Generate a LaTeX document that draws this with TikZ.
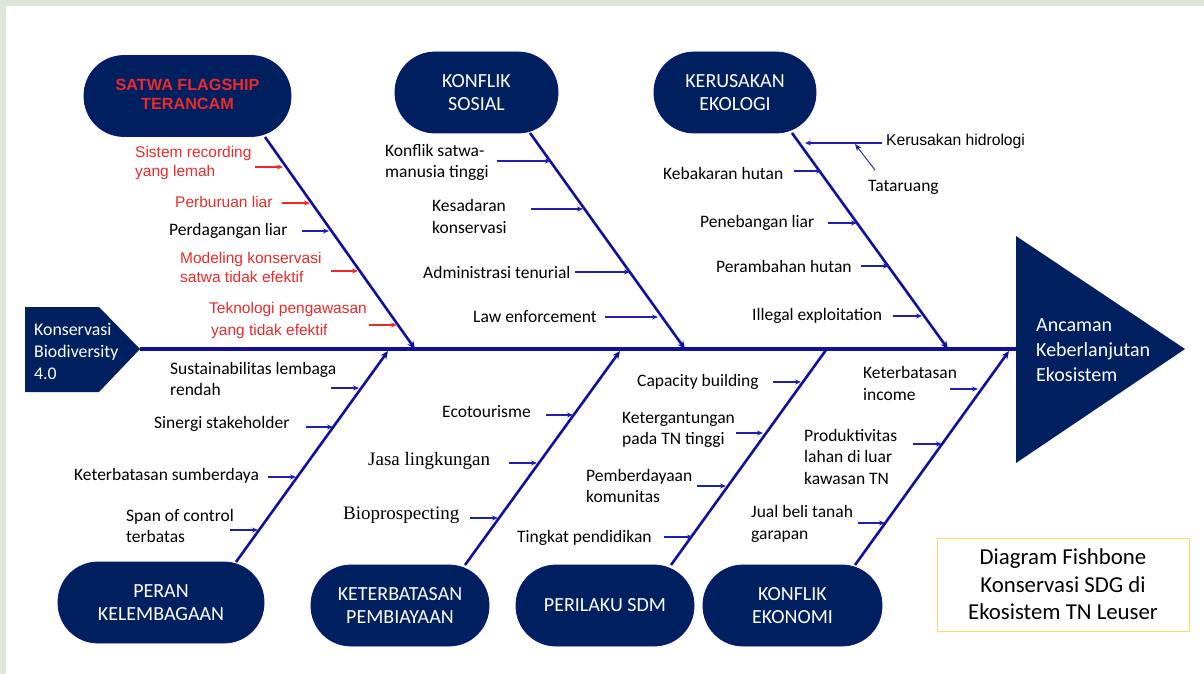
\documentclass[tikz,border=0pt]{standalone}
\usepackage{fontspec}
\setmainfont{Carlito}
\newfontfamily\arialf{Liberation Sans}
\newfontfamily\serf{Liberation Serif}
\usetikzlibrary{arrows.meta}
\definecolor{navy}{HTML}{002060}
\definecolor{bonec}{HTML}{10109C}
\definecolor{arrc}{HTML}{1E1EB0}
\definecolor{redc}{HTML}{EC2A2A}
\definecolor{framec}{HTML}{DEE6D8}
\definecolor{goldc}{HTML}{FFD966}
\newcommand{\subarr}[4][arrc]{\draw[subarrow,draw=#1] (#2,#4) -- (#3,#4);}
\begin{document}
\begin{tikzpicture}[x=1pt,y=-1pt,
  cat/.style={rectangle, rounded corners=40pt, fill=navy, draw=bonec!60!navy, line width=0.8pt,
    text=white, align=center, minimum height=81pt, inner sep=0pt,
    font=\fontsize{20}{23.5}\selectfont},
  bone/.style={draw=bonec, line width=2.6pt},
  bonetip/.style={bone, -{Stealth[length=8pt,width=7pt]}},
  spine/.style={draw=bonec, line width=4.2pt},
  subarrow/.style={line width=1.1pt, -{Stealth[length=6pt,width=5pt]}},
  lbl/.style={anchor=west, inner sep=0pt, align=left, text=black,
    font=\fontsize{17.5}{21.5}\selectfont},
  rlbl/.style={anchor=west, inner sep=0pt, align=left, text=redc,
    font=\arialf\fontsize{15.5}{19}\selectfont},
  slbl/.style={anchor=west, inner sep=0pt, text=black,
    font=\serf\fontsize{19}{22}\selectfont}
]
\useasboundingbox (0,0) rectangle (1204,674);
% frame
\fill[framec] (0,0) rectangle (1204,674);
\fill[white] (6,6) rectangle (1204,674);

% tail and head
\fill[navy] (25,307) -- (99,307) -- (140,349) -- (99,392) -- (25,392) -- cycle;
\node[anchor=west, inner sep=0pt, align=left, text=white, font=\fontsize{17.8}{22}\selectfont]
  (tail) at (34,351) {Konservasi\\Biodiversity\\4.0};
\fill[navy] (1016,236) -- (1185,349) -- (1016,463) -- cycle;
\node[anchor=west, inner sep=0pt, align=left, text=white, font=\fontsize{20}{25}\selectfont]
  (head) at (1036,350) {Ancaman\\Keberlanjutan\\Ekosistem};

\coordinate (tailtip) at (140,349);
\coordinate (headbase) at (1016,349);
\draw[spine] (tailtip) -- (headbase);

% category nodes
\node[cat, minimum width=207pt, text=redc, font=\arialf\bfseries\fontsize{16.2}{19.5}\selectfont]
  (n1) at (187.5,96) {\raisebox{3.5pt}{\begin{tabular}{@{}c@{}}SATWA FLAGSHIP\\TERANCAM\end{tabular}}};
\node[cat, minimum width=163pt] (n2) at (476.5,92.5) {KONFLIK\\SOSIAL};
\node[cat, minimum width=162pt] (n3) at (735,92.5) {KERUSAKAN\\EKOLOGI};
\node[cat, minimum width=206pt] (n4) at (161,602.5) {PERAN\\KELEMBAGAAN};
\node[cat, minimum width=178pt] (n5) at (400,605.5) {KETERBATASAN\\PEMBIAYAAN};
\node[cat, minimum width=178pt] (n6) at (605,605.5) {PERILAKU SDM};
\node[cat, minimum width=179pt] (n7) at (792.5,605.5) {KONFLIK\\EKONOMI};

% bone anchor coordinates
\coordinate (b1) at (265,137);   \coordinate (s1) at (415,349);
\coordinate (b2) at (530,133);   \coordinate (s2) at (685,349);
\coordinate (b3) at (792,133);   \coordinate (s3) at (948,349);
\coordinate (b4) at (236,562);   \coordinate (s4) at (388,351);
\coordinate (b5) at (465,565);   \coordinate (s5) at (620,351);
\coordinate (b6) at (671,565);   \coordinate (s6) at (826,350);
\coordinate (b7) at (855,565);   \coordinate (s7) at (1009,351);

\draw[bonetip] (b1) -- (s1);
\draw[bonetip] (b2) -- (s2);
\draw[bonetip] (b3) -- (s3);
\draw[bonetip] (b4) -- (s4);
\draw[bonetip] (b5) -- (s5);
\draw[bone] (b6) -- (s6);
\draw[bonetip] (b7) -- (s7);

% branch 1 : SATWA FLAGSHIP
\node[rlbl] (l11) at (135,162.5) {Sistem recording\\yang lemah};
\subarr[redc]{255}{283}{167}
\node[rlbl] (l12) at (175,202) {Perburuan liar};
\subarr[redc]{282}{310}{203}
\node[lbl] (l13) at (169,231) {Perdagangan liar};
\subarr{302}{329}{231}
\node[rlbl] (l14) at (180,267.5) {Modeling konservasi\\satwa tidak efektif};
\subarr[redc]{331}{358}{271}
\node[rlbl, font=\arialf\fontsize{15.5}{22}\selectfont] (l15) at (209,320) {Teknologi pengawasan\\\hspace*{2pt}yang tidak efektif};
\subarr[redc]{369}{397}{325}

% branch 2 : KONFLIK SOSIAL
\node[lbl] (l21) at (385,162.5) {Konflik satwa-\\manusia tinggi};
\subarr{497}{551}{161}
\node[lbl] (l22) at (432,216.5) {Kesadaran\\konservasi};
\subarr{531}{583}{209}
\node[lbl] (l23) at (423,272) {Administrasi tenurial};
\subarr{575}{630}{272}
\node[lbl] (l24) at (473,317) {Law enforcement};
\subarr{605}{658}{317}

% branch 3 : KERUSAKAN EKOLOGI
\node[anchor=west, inner sep=0pt, font=\arialf\fontsize{15.7}{19}\selectfont] (l31) at (886,141) {Kerusakan hidrologi};
\subarr{882}{805}{143}
\node[lbl] (l32) at (868,187) {Tataruang};
\draw[arrc, line width=0.9pt, -{Stealth[length=7pt,width=5.5pt]}] (875,170) -- (855,144);
\node[lbl] (l33) at (663,173) {Kebakaran hutan};
\subarr{794}{822}{171}
\node[lbl] (l34) at (700,223) {Penebangan liar};
\subarr{828}{857}{223}
\node[lbl] (l35) at (716,266) {Perambahan hutan};
\subarr{861}{889}{266}
\node[lbl] (l36) at (752,316) {Illegal exploitation};
\subarr{893}{922}{316}

% branch 4 : PERAN KELEMBAGAAN
\node[lbl] (l41) at (170,379) {Sustainabilitas lembaga\\rendah};
\subarr{331}{359}{388}
\node[lbl] (l42) at (154,424) {Sinergi stakeholder};
\subarr{306}{333}{427}
\node[lbl] (l43) at (74,476) {Keterbatasan sumberdaya};
\subarr{268}{296}{477}
\node[lbl] (l44) at (126,526) {Span of control\\terbatas};
\subarr{230}{258}{530}

% branch 5 : KETERBATASAN PEMBIAYAAN
\node[lbl] (l51) at (442,412) {Ecotourisme};
\subarr{546}{573}{415}
\node[slbl] (l52) at (368,461) {Jasa lingkungan};
\subarr{509}{537}{463}
\node[slbl] (l53) at (343,515) {Bioprospecting};
\subarr{470}{498}{518}

% branch 6 : PERILAKU SDM
\node[lbl] (l61) at (637,382) {Capacity building};
\subarr{773}{801}{382}
\node[lbl] (l62) at (622,430) {Ketergantungan\\pada TN tinggi};
\subarr{736}{763}{433}
\node[lbl] (l63) at (586,486) {Pemberdayaan\\komunitas};
\subarr{697}{726}{486}
\node[lbl] (l64) at (517,538) {Tingkat pendidikan};
\subarr{664}{693}{537}

% branch 7 : KONFLIK EKONOMI
\node[lbl] (l71) at (863,383.5) {Keterbatasan\\income};
\subarr{950}{978}{389}
\node[lbl] (l72) at (804,456.5) {Produktivitas\\lahan di luar\\kawasan TN};
\subarr{913}{942}{444}
\node[lbl] (l73) at (751,524) {Jual beli tanah\\garapan};
\subarr{858}{885}{523}

% legend
\node[draw=goldc, line width=1pt, fill=white, minimum width=252pt, minimum height=93pt,
  align=center, inner sep=0pt, font=\fontsize{22.8}{27.5}\selectfont]
  (legend) at (1063,584.5) {Diagram Fishbone\\Konservasi SDG di\\Ekosistem TN Leuser};
\end{tikzpicture}
\end{document}
